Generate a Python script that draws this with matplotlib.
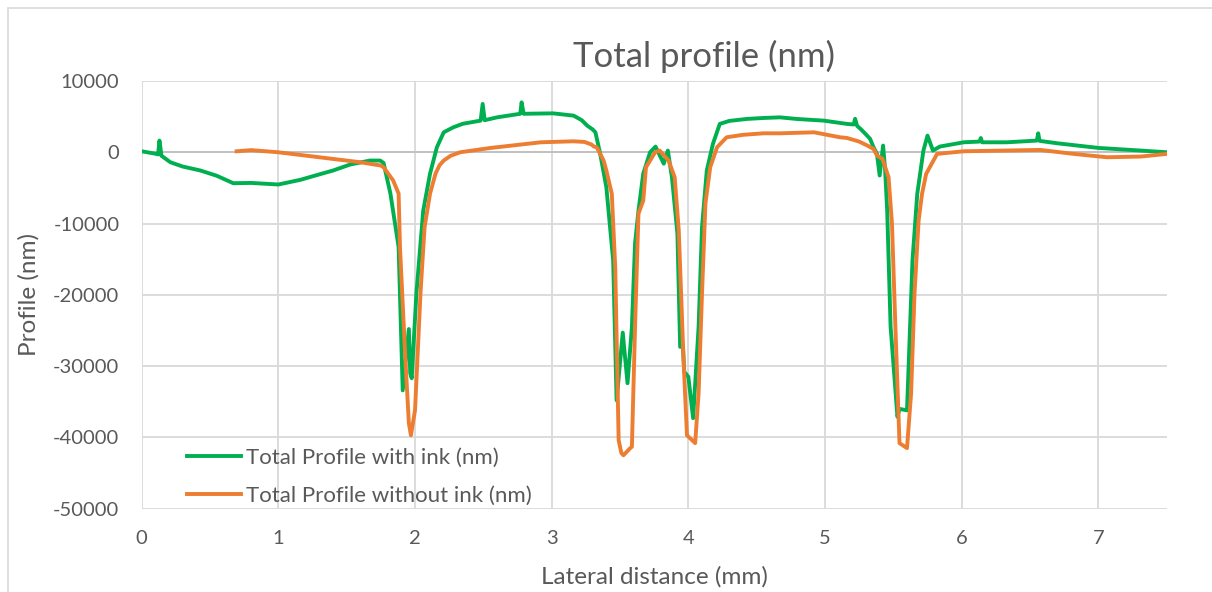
import matplotlib
matplotlib.use("Agg")
import matplotlib.pyplot as plt
from matplotlib.patches import Rectangle

plt.rcParams['font.family'] = ['Lato', 'DejaVu Sans']
plt.rcParams['axes.unicode_minus'] = False

# profile with ink (green)
x_ink = [0.00, 0.10, 0.12, 0.13, 0.145, 0.16, 0.21, 0.30, 0.43, 0.55, 0.67, 0.80, 1.00, 1.16, 1.30,
         1.40, 1.525, 1.67, 1.745, 1.77, 1.82, 1.88, 1.91, 1.955, 1.965, 1.976, 2.01, 2.06,
         2.11, 2.16, 2.21, 2.28, 2.35, 2.48, 2.495, 2.51, 2.60, 2.77, 2.78, 2.795, 3.01, 3.16,
         3.22, 3.26, 3.30, 3.32, 3.355, 3.40, 3.45, 3.475, 3.52, 3.555, 3.587, 3.61, 3.635, 3.67,
         3.72, 3.76, 3.82, 3.85, 3.88, 3.92, 3.94, 3.96, 3.97, 4.00, 4.035, 4.075, 4.10, 4.135,
         4.18, 4.23, 4.30, 4.43, 4.55, 4.67, 4.795, 4.99, 5.16, 5.21, 5.22, 5.235, 5.26, 5.30,
         5.33, 5.355, 5.38, 5.40, 5.425, 5.44, 5.455, 5.48, 5.53, 5.545, 5.60, 5.64, 5.675, 5.72,
         5.75, 5.79, 5.84, 6.015, 6.13, 6.14, 6.15, 6.33, 6.55, 6.56, 6.57, 6.70, 7.00, 7.31, 7.50]
y_ink = [140, -200, -300, 1640, -500, -700, -1400, -2000, -2560, -3300, -4340, -4300, -4520, -3870, -3100,
         -2560, -1720, -1160, -1160, -1500, -5800, -13300, -33400, -24800, -31000, -31700, -19800, -8200,
         -3000, 700, 2800, 3500, 4000, 4440, 6780, 4500, 4900, 5400, 7000, 5400, 5460, 5140,
         4500, 3740, 3200, 2800, -220, -4900, -15200, -34800, -25300, -32400, -24500, -12800, -8200, -3000,
         0, 800, -1600, 240, -3500, -11400, -27300, -27000, -30800, -31500, -37300, -24500, -10500, -2560,
         1180, 3980, 4400, 4680, 4810, 4900, 4670, 4440, 3980, 3900, 4700, 3700, 3280, 2500,
         1880, 700, -220, -3260, 940, -2500, -8200, -24500, -37100, -36000, -36200, -15200, -5830, 240,
         2340, 240, 800, 1400, 1500, 2000, 1400, 1400, 1640, 2660, 1600, 1260, 610, 240, 0]

# profile without ink (orange)
x_noink = [0.695, 0.80, 1.00, 1.30, 1.60, 1.75, 1.77, 1.84, 1.88, 1.89, 1.93, 1.955, 1.97, 2.00,
           2.04, 2.07, 2.11, 2.15, 2.18, 2.21, 2.26, 2.33, 2.55, 2.92, 3.16, 3.24, 3.29, 3.31,
           3.33, 3.38, 3.40, 3.44, 3.465, 3.49, 3.51, 3.525, 3.575, 3.587, 3.61, 3.635, 3.67,
           3.69, 3.757, 3.79, 3.855, 3.90, 3.93, 3.965, 3.99, 4.05, 4.075, 4.10, 4.125, 4.16,
           4.21, 4.28, 4.40, 4.55, 4.67, 4.92, 5.11, 5.16, 5.25, 5.31, 5.355, 5.38, 5.42, 5.465,
           5.49, 5.515, 5.545, 5.60, 5.63, 5.655, 5.685, 5.71, 5.74, 5.82, 6.015, 6.575, 6.82,
           7.065, 7.31, 7.50]
y_noink = [140, 300, 0, -700, -1400, -1860, -2100, -3960, -5800, -13300, -29200, -38000, -39700, -36200,
           -19800, -10500, -5800, -3000, -1800, -1160, -500, 0, 600, 1400, 1540, 1450, 1100, 800,
           700, -1160, -2560, -5830, -16100, -40400, -42200, -42500, -41500, -41300, -24500, -8600, -6770,
           -2100, 0, 240, -1160, -3500, -11000, -29200, -39700, -40800, -33800, -19800, -7200, -2100,
           700, 2100, 2450, 2660, 2660, 2800, 2100, 2010, 1500, 940, 470, -460, -900, -3500,
           -10000, -24500, -40800, -41500, -33800, -19800, -9570, -5830, -3030, -230, 140, 330, -230,
           -700, -600, -230]

x_ticks = [0, 1, 2, 3, 4, 5, 6, 7]
y_ticks = [10000, 0, -10000, -20000, -30000, -40000, -50000]

text_col = '#595959'
grid_col = '#D9D9D9'

fig = plt.figure(figsize=(12.12, 5.92), dpi=100)
fig.patches.append(Rectangle((8 / 1212, -0.1), 1.2, 1.1 - 8 / 592, transform=fig.transFigure,
                             fill=False, edgecolor=grid_col, linewidth=1.2))
ax = fig.add_axes([0.1169, 0.1407, 0.9626 - 0.1169, 0.8632 - 0.1407])

ax.plot(x_ink, y_ink, color='#00B050', linewidth=2.8, label='Total Profile with ink (nm)',
        solid_joinstyle='round', zorder=3)
ax.plot(x_noink, y_noink, color='#ED7D31', linewidth=2.8, label='Total Profile without ink (nm)',
        solid_joinstyle='round', zorder=4)
ax.axhline(0, color='#BFBFBF', linewidth=1.3, zorder=2)

ax.set_xlim(0, 7.5)
ax.set_ylim(-50000, 10000)
ax.set_xticks(x_ticks)
ax.set_yticks(y_ticks)
ax.grid(True, color=grid_col, linewidth=1.3)
ax.set_axisbelow(True)
for s in ax.spines.values():
    s.set_visible(False)
ax.tick_params(length=0, labelsize=14.5, colors=text_col)
ax.tick_params(axis='x', pad=15)
ax.tick_params(axis='y', pad=16)

ax.set_title('Total profile (nm)', fontsize=25, color=text_col, pad=10, x=0.549)
ax.set_xlabel('Lateral distance (mm)', fontsize=17.5, color=text_col, labelpad=14)
ax.set_ylabel('Profile (nm)', fontsize=17.5, color=text_col, labelpad=10)

ax.legend(loc='lower left', bbox_to_anchor=(0.025, -0.04), frameon=False, fontsize=16,
          labelcolor=text_col, handlelength=2.4, handletextpad=0.25, labelspacing=0.8)

fig.savefig('out.png', dpi=100)
